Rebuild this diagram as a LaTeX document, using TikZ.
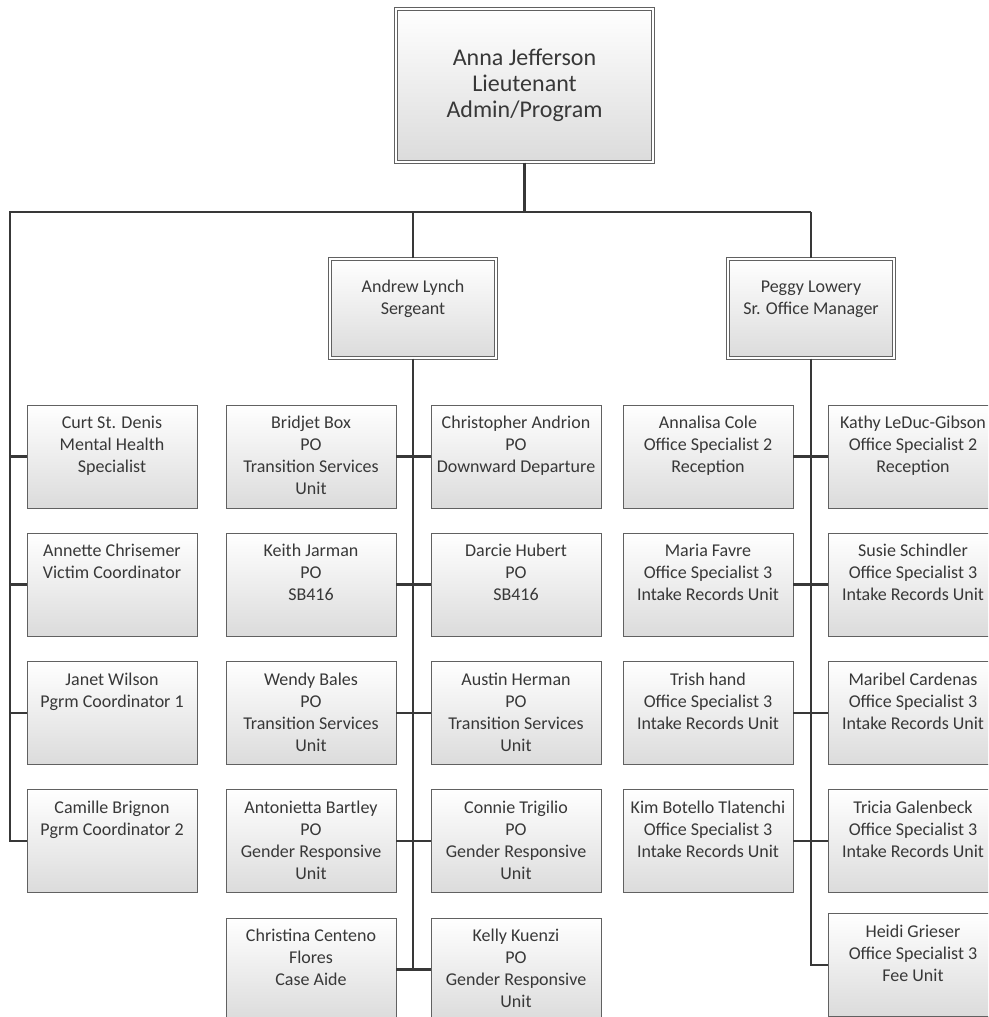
\documentclass[tikz,border=0pt]{standalone}
\usepackage{fontspec}
\setmainfont{Carlito}
\newcommand\orgleaf[4]{%
  \node[leaf] (#1) at (#2,#3) {\parbox[c][86pt][t]{166pt}{\centering\strut #4}};}
\begin{document}
\begin{tikzpicture}[x=1pt,y=-1pt,
  conn/.style={draw=black!78, line width=2.4pt},
  boxbase/.style={draw=black!62, line width=0.9pt, top color=white, bottom color=black!14,
    text=black!78, font=\fontsize{18}{22}\selectfont},
  leaf/.style={boxbase, minimum width=170pt, minimum height=103pt, inner xsep=2pt, inner ysep=8.5pt},
  mgr/.style={boxbase, double=white, double distance=2pt, minimum width=166.2pt,
    minimum height=99.2pt, inner xsep=2pt, inner ysep=18.6pt},
  chief/.style={boxbase, double=white, double distance=2pt, minimum width=257.2pt,
    minimum height=153.2pt, align=center, font=\fontsize{24}{26}\selectfont}
]
\useasboundingbox (0,0) rectangle (988,1017);
\clip (0,0) rectangle (988,1017);

% head of the unit
\node[chief] (anna) at (524.5,85.5) {Anna Jefferson\\Lieutenant\\Admin/Program};

% second level
\node[mgr] (andrew) at (413,308.5) {\parbox[c][62pt][t]{162pt}{\centering\strut Andrew Lynch\\Sergeant}};
\node[mgr] (peggy) at (811,308.5) {\parbox[c][62pt][t]{162pt}{\centering\strut Peggy Lowery\\Sr. Office Manager}};

% staff reporting directly to the lieutenant
\orgleaf{a1}{112}{456.5}{Curt St. Denis\\Mental Health\\Specialist}
\orgleaf{a2}{112}{584.5}{Annette Chrisemer\\Victim Coordinator}
\orgleaf{a3}{112}{713}{Janet Wilson\\Pgrm Coordinator 1}
\orgleaf{a4}{112}{841}{Camille Brignon\\Pgrm Coordinator 2}

% sergeant's team
\orgleaf{b1}{311}{456.5}{Bridjet Box\\PO\\Transition Services\\Unit}
\orgleaf{b2}{311}{584.5}{Keith Jarman\\PO\\SB416}
\orgleaf{b3}{311}{713}{Wendy Bales\\PO\\Transition Services\\Unit}
\orgleaf{b4}{311}{841}{Antonietta Bartley\\PO\\Gender Responsive\\Unit}
\orgleaf{b5}{311}{969.5}{Christina Centeno\\Flores\\Case Aide}
\orgleaf{c1}{516}{456.5}{Christopher Andrion\\PO\\Downward Departure}
\orgleaf{c2}{516}{584.5}{Darcie Hubert\\PO\\SB416}
\orgleaf{c3}{516}{713}{Austin Herman\\PO\\Transition Services\\Unit}
\orgleaf{c4}{516}{841}{Connie Trigilio\\PO\\Gender Responsive\\Unit}
\orgleaf{c5}{516}{969.5}{Kelly Kuenzi\\PO\\Gender Responsive\\Unit}

% office staff
\orgleaf{d1}{708}{456.5}{Annalisa Cole\\Office Specialist 2\\Reception}
\orgleaf{d2}{708}{584.5}{Maria Favre\\Office Specialist 3\\Intake Records Unit}
\orgleaf{d3}{708}{713}{Trish hand\\Office Specialist 3\\Intake Records Unit}
\orgleaf{d4}{708}{841}{Kim Botello Tlatenchi\\Office Specialist 3\\Intake Records Unit}
\orgleaf{e1}{913}{456.5}{Kathy LeDuc-Gibson\\Office Specialist 2\\Reception}
\orgleaf{e2}{913}{584.5}{Susie Schindler\\Office Specialist 3\\Intake Records Unit}
\orgleaf{e3}{913}{713}{Maribel Cardenas\\Office Specialist 3\\Intake Records Unit}
\orgleaf{e4}{913}{841}{Tricia Galenbeck\\Office Specialist 3\\Intake Records Unit}
\orgleaf{e5}{913}{965}{Heidi Grieser\\Office Specialist 3\\Fee Unit}

% connectors
\coordinate (busL) at (10,212);
\coordinate (busR) at (811,212);
\draw[conn] (anna.south) -- (anna.south |- busL);
\draw[conn] (busR) -- (busL) |- (a4.west);
\draw[conn] (andrew.north) -- (andrew.north |- busL);
\draw[conn] (peggy.north) -- (peggy.north |- busR);
\foreach \n in {a1,a2,a3} \draw[conn] (\n.west) -- (\n.west -| busL);

\draw[conn] (andrew.south) -- (andrew.south |- b5.east);
\foreach \l/\r in {b1/c1,b2/c2,b3/c3,b4/c4,b5/c5} \draw[conn] (\l.east) -- (\r.west);

\draw[conn] (peggy.south) |- (e5.west);
\foreach \l/\r in {d1/e1,d2/e2,d3/e3,d4/e4} \draw[conn] (\l.east) -- (\r.west);
\end{tikzpicture}
\end{document}
